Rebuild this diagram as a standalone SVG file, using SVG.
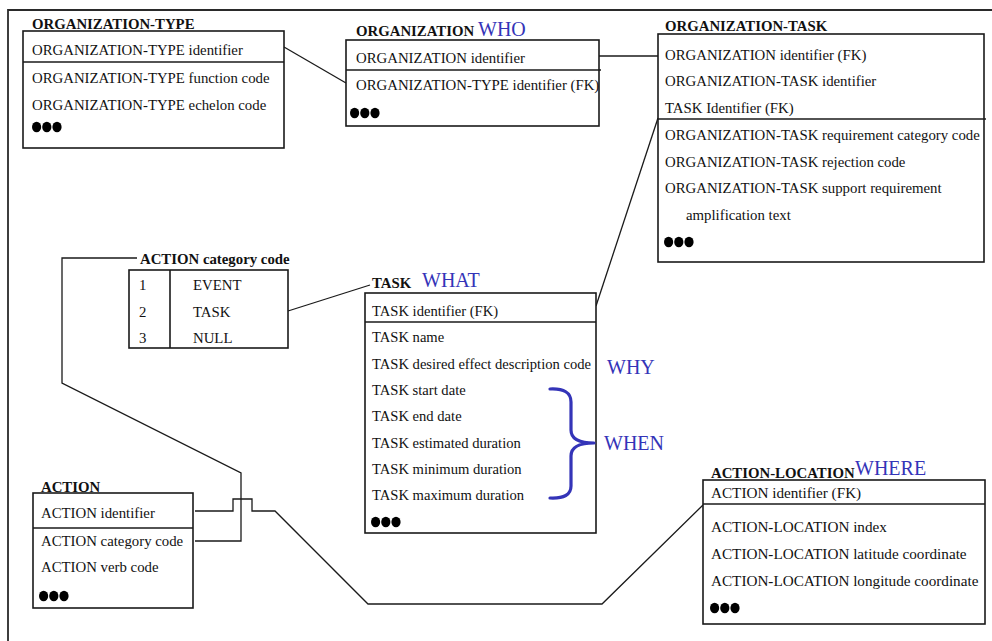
<svg xmlns="http://www.w3.org/2000/svg" width="992" height="641" viewBox="0 0 992 641">
  <style>
    .frame { fill: none; stroke: #2a2a2a; stroke-width: 1.8; }
    .box { fill: #fff; stroke: #1a1a1a; stroke-width: 1.6; }
    .sep { stroke: #1a1a1a; stroke-width: 1.6; }
    .c { fill: none; stroke: #1a1a1a; stroke-width: 1.3; }
    text { font-family: 'Liberation Serif', Tinos, 'DejaVu Serif', serif; }
    .t { font-size: 14.8px; fill: #111; }
    .h { font-size: 14.8px; font-weight: bold; fill: #111; }
    .w { font-size: 20px; fill: #3434b8; }
    #task .t { font-size: 14.6px; }
    #action-location .t { font-size: 15.2px; }
    .brace { fill: none; stroke: #3434b8; stroke-width: 3.2; stroke-linecap: round; stroke-linejoin: round; }
    .dot { fill: #000; }
  </style>
  <defs>
    <!-- "more attributes" marker: three filled dots -->
    <g id="more">
      <ellipse class="dot" cx="4.6" cy="0" rx="4.6" ry="5.3"/>
      <ellipse class="dot" cx="14.8" cy="0" rx="4.6" ry="5.3"/>
      <ellipse class="dot" cx="25" cy="0" rx="4.6" ry="5.3"/>
    </g>
  </defs>

  <rect x="0" y="0" width="992" height="641" fill="#fff"/>
  <path class="frame" d="M8 641 V10 H992"/>

  <!-- relationship lines -->
  <g id="connectors">
    <path class="c" d="M284 47 L346 83"/>
    <path class="c" d="M599 56 H658"/>
    <path class="c" d="M658 118 L596 306"/>
    <path class="c" d="M288 311 L370 285"/>
    <path class="c" d="M137 258 H62 V383 L241 473 V541 H195"/>
    <path class="c" d="M195 511 H233 V499 H252 V511 H275 L368 604 H602 L703 505"/>
  </g>

  <g id="organization-type">
    <text class="h" x="32" y="29">ORGANIZATION-TYPE</text>
    <rect class="box" x="23" y="31" width="261" height="117"/>
    <line class="sep" x1="23" y1="62" x2="284" y2="62"/>
    <text class="t" x="32" y="55">ORGANIZATION-TYPE identifier</text>
    <text class="t" x="32" y="83">ORGANIZATION-TYPE function code</text>
    <text class="t" x="32" y="110">ORGANIZATION-TYPE echelon code</text>
    <use href="#more" x="32" y="127"/>
  </g>

  <g id="organization">
    <text class="h" x="356" y="36">ORGANIZATION</text>
    <text class="w" x="478" y="36">WHO</text>
    <rect class="box" x="346" y="40" width="253" height="86"/>
    <line class="sep" x1="346" y1="70" x2="601" y2="70"/>
    <text class="t" x="356" y="63">ORGANIZATION identifier</text>
    <text class="t" x="356" y="90">ORGANIZATION-TYPE identifier (FK)</text>
    <use href="#more" x="350" y="113"/>
  </g>

  <g id="organization-task">
    <text class="h" x="665" y="31">ORGANIZATION-TASK</text>
    <rect class="box" x="658" y="34" width="326" height="228"/>
    <line class="sep" x1="658" y1="119" x2="986" y2="119"/>
    <text class="t" x="665" y="60">ORGANIZATION identifier (FK)</text>
    <text class="t" x="665" y="86">ORGANIZATION-TASK identifier</text>
    <text class="t" x="665" y="113">TASK Identifier (FK)</text>
    <text class="t" x="665" y="140">ORGANIZATION-TASK requirement category code</text>
    <text class="t" x="665" y="167">ORGANIZATION-TASK rejection code</text>
    <text class="t" x="665" y="193">ORGANIZATION-TASK support requirement</text>
    <text class="t" x="686" y="220">amplification text</text>
    <use href="#more" x="664" y="242"/>
  </g>

  <g id="action-category-code">
    <text class="h" x="140" y="264">ACTION category code</text>
    <rect class="box" x="129" y="270" width="159" height="78"/>
    <line class="sep" x1="170" y1="270" x2="170" y2="348"/>
    <text class="t" x="139" y="290">1</text>
    <text class="t" x="193" y="290">EVENT</text>
    <text class="t" x="139" y="317">2</text>
    <text class="t" x="193" y="317">TASK</text>
    <text class="t" x="139" y="343">3</text>
    <text class="t" x="193" y="343">NULL</text>
  </g>

  <g id="task">
    <text class="h" x="372" y="288">TASK</text>
    <text class="w" x="422" y="287">WHAT</text>
    <rect class="box" x="365" y="293" width="231" height="240"/>
    <line class="sep" x1="365" y1="322" x2="596" y2="322"/>
    <text class="t" x="372" y="316">TASK identifier (FK)</text>
    <text class="t" x="372" y="342">TASK name</text>
    <text class="t" x="372" y="369">TASK desired effect description code</text>
    <text class="t" x="372" y="395">TASK start date</text>
    <text class="t" x="372" y="421">TASK end date</text>
    <text class="t" x="372" y="448">TASK estimated duration</text>
    <text class="t" x="372" y="474">TASK minimum duration</text>
    <text class="t" x="372" y="500">TASK maximum duration</text>
    <use href="#more" x="371" y="522"/>
    <text class="w" x="607" y="374">WHY</text>
    <path class="brace" d="M550 389 Q571 388 571 402 V430 Q571 443 594 443 Q571 443 571 456 V486 Q571 499 550 498"/>
    <text class="w" x="604" y="450">WHEN</text>
  </g>

  <g id="action">
    <text class="h" x="41" y="492">ACTION</text>
    <rect class="box" x="33" y="493" width="160" height="115"/>
    <line class="sep" x1="33" y1="528" x2="193" y2="528"/>
    <text class="t" x="41" y="518">ACTION identifier</text>
    <text class="t" x="41" y="546">ACTION category code</text>
    <text class="t" x="41" y="572">ACTION verb code</text>
    <use href="#more" x="39" y="596"/>
  </g>

  <g id="action-location">
    <text class="h" x="711" y="478">ACTION-LOCATION</text>
    <text class="w" x="855" y="475">WHERE</text>
    <rect class="box" x="703" y="480" width="282" height="144"/>
    <line class="sep" x1="703" y1="504" x2="985" y2="504"/>
    <text class="t" x="711" y="498">ACTION identifier (FK)</text>
    <text class="t" x="711" y="532">ACTION-LOCATION index</text>
    <text class="t" x="711" y="559">ACTION-LOCATION latitude coordinate</text>
    <text class="t" x="711" y="586">ACTION-LOCATION longitude coordinate</text>
    <use href="#more" x="710" y="608"/>
  </g>
</svg>
